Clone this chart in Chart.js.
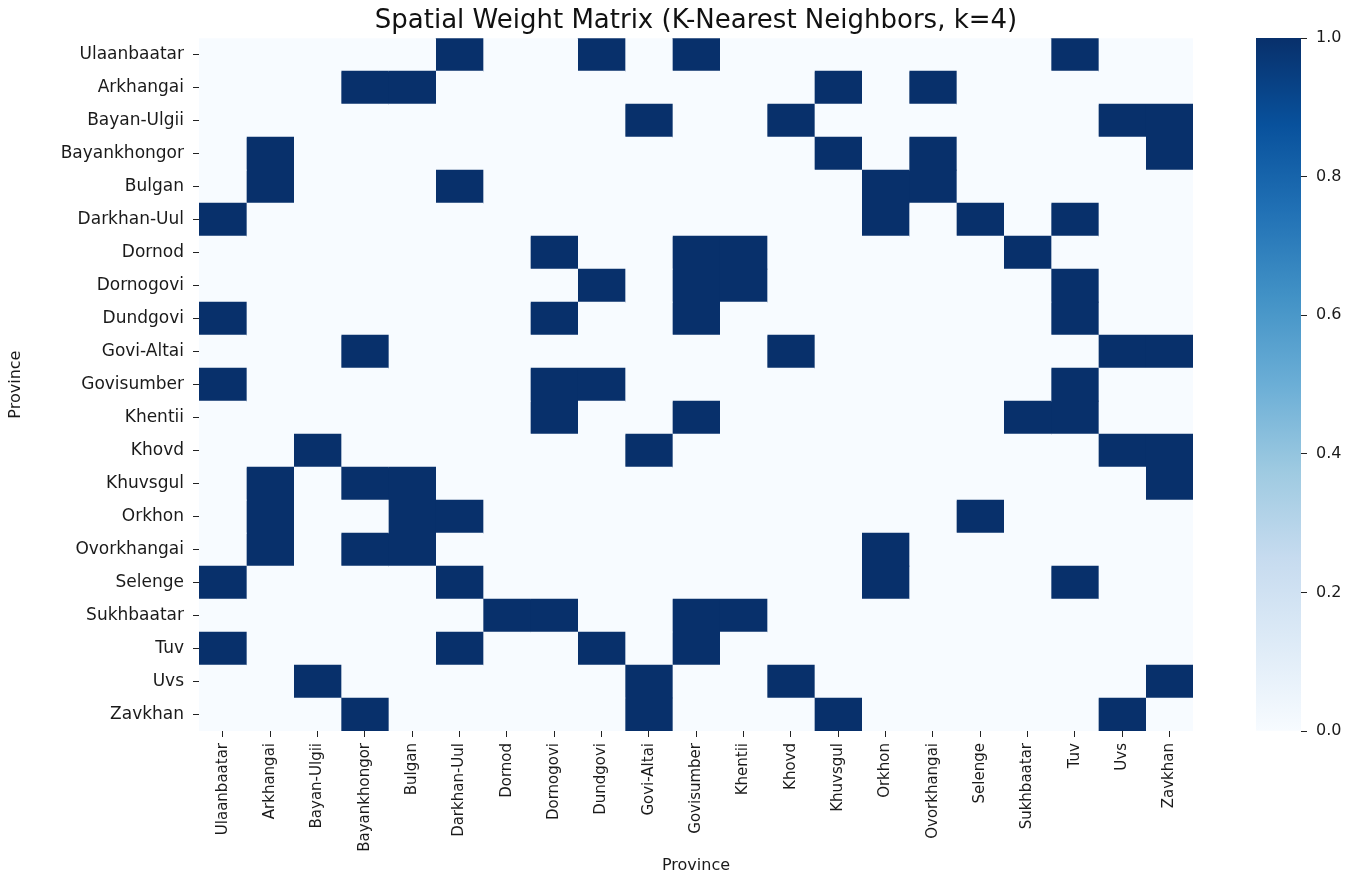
<!DOCTYPE html>
<html>
<head>
<meta charset="utf-8">
<script src="https://cdn.jsdelivr.net/npm/chart.js@4.4.1/dist/chart.umd.min.js"></script>
<style>
html,body{margin:0;padding:0;background:#ffffff;}
#main{position:absolute;left:0;top:0;width:1240px;height:877px;}
#cbar{position:absolute;left:1240px;top:0;width:123px;height:877px;}
</style>
</head>
<body>
<div id="main"><canvas id="heat"></canvas></div>
<div id="cbar"><canvas id="bar"></canvas></div>
<script>
// ---------------- data ----------------
const chartTitle = 'Spatial Weight Matrix (K-Nearest Neighbors, k=4)';
const axisTitle = 'Province';
const provinces = ['Ulaanbaatar','Arkhangai','Bayan-Ulgii','Bayankhongor','Bulgan','Darkhan-Uul','Dornod','Dornogovi','Dundgovi','Govi-Altai','Govisumber','Khentii','Khovd','Khuvsgul','Orkhon','Ovorkhangai','Selenge','Sukhbaatar','Tuv','Uvs','Zavkhan'];

// one row of weights per province (columns in the same order as provinces)
const wUlaanbaatar  = [0,0,0,0,0,1,0,0,1,0,1,0,0,0,0,0,0,0,1,0,0];
const wArkhangai    = [0,0,0,1,1,0,0,0,0,0,0,0,0,1,0,1,0,0,0,0,0];
const wBayanUlgii   = [0,0,0,0,0,0,0,0,0,1,0,0,1,0,0,0,0,0,0,1,1];
const wBayankhongor = [0,1,0,0,0,0,0,0,0,0,0,0,0,1,0,1,0,0,0,0,1];
const wBulgan       = [0,1,0,0,0,1,0,0,0,0,0,0,0,0,1,1,0,0,0,0,0];
const wDarkhanUul   = [1,0,0,0,0,0,0,0,0,0,0,0,0,0,1,0,1,0,1,0,0];
const wDornod       = [0,0,0,0,0,0,0,1,0,0,1,1,0,0,0,0,0,1,0,0,0];
const wDornogovi    = [0,0,0,0,0,0,0,0,1,0,1,1,0,0,0,0,0,0,1,0,0];
const wDundgovi     = [1,0,0,0,0,0,0,1,0,0,1,0,0,0,0,0,0,0,1,0,0];
const wGoviAltai    = [0,0,0,1,0,0,0,0,0,0,0,0,1,0,0,0,0,0,0,1,1];
const wGovisumber   = [1,0,0,0,0,0,0,1,1,0,0,0,0,0,0,0,0,0,1,0,0];
const wKhentii      = [0,0,0,0,0,0,0,1,0,0,1,0,0,0,0,0,0,1,1,0,0];
const wKhovd        = [0,0,1,0,0,0,0,0,0,1,0,0,0,0,0,0,0,0,0,1,1];
const wKhuvsgul     = [0,1,0,1,1,0,0,0,0,0,0,0,0,0,0,0,0,0,0,0,1];
const wOrkhon       = [0,1,0,0,1,1,0,0,0,0,0,0,0,0,0,0,1,0,0,0,0];
const wOvorkhangai  = [0,1,0,1,1,0,0,0,0,0,0,0,0,0,1,0,0,0,0,0,0];
const wSelenge      = [1,0,0,0,0,1,0,0,0,0,0,0,0,0,1,0,0,0,1,0,0];
const wSukhbaatar   = [0,0,0,0,0,0,1,1,0,0,1,1,0,0,0,0,0,0,0,0,0];
const wTuv          = [1,0,0,0,0,1,0,0,1,0,1,0,0,0,0,0,0,0,0,0,0];
const wUvs          = [0,0,1,0,0,0,0,0,0,1,0,0,1,0,0,0,0,0,0,0,1];
const wZavkhan      = [0,0,0,1,0,0,0,0,0,1,0,0,0,1,0,0,0,0,0,1,0];

const colorbarTicks = [0.0, 0.2, 0.4, 0.6, 0.8, 1.0];

// ---------------- build ----------------
const weightRows = [wUlaanbaatar,wArkhangai,wBayanUlgii,wBayankhongor,wBulgan,wDarkhanUul,wDornod,wDornogovi,wDundgovi,wGoviAltai,wGovisumber,wKhentii,wKhovd,wKhuvsgul,wOrkhon,wOvorkhangai,wSelenge,wSukhbaatar,wTuv,wUvs,wZavkhan];

const bluesStops = ['#f7fbff','#deebf7','#c6dbef','#9ecae1','#6baed6','#4292c6','#2171b5','#08519c','#08306b'];
function hexToRgb(h){return [parseInt(h.slice(1,3),16),parseInt(h.slice(3,5),16),parseInt(h.slice(5,7),16)];}
function blues(v){
  const t = Math.max(0, Math.min(1, v)) * (bluesStops.length - 1);
  const i = Math.min(Math.floor(t), bluesStops.length - 2);
  const f = t - i;
  const a = hexToRgb(bluesStops[i]), b = hexToRgb(bluesStops[i+1]);
  const c = a.map((x,k)=>Math.round(x + (b[k]-x)*f));
  return `rgb(${c[0]},${c[1]},${c[2]})`;
}

const FONT = "'DejaVu Sans', 'Noto Sans', sans-serif";
const TXT = '#1a1a1a';
Chart.defaults.font.family = FONT;
Chart.defaults.color = TXT;

const heatDatasets = provinces.map((colName, c) => ({
  label: colName,
  data: provinces.map(() => [c, c + 1]),
  backgroundColor: weightRows.map(row => blues(row[c])),
  borderWidth: 0,
  barPercentage: 1,
  categoryPercentage: 1,
  grouped: false
}));

new Chart(document.getElementById('heat'), {
  type: 'bar',
  data: { labels: provinces, datasets: heatDatasets },
  options: {
    indexAxis: 'y',
    responsive: true,
    maintainAspectRatio: false,
    animation: false,
    layout: { padding: { left: 0, right: 47, top: 0, bottom: 0 } },
    plugins: {
      legend: { display: false },
      tooltip: { enabled: false },
      title: {
        display: true, text: chartTitle, fullSize: false, color: '#111',
        font: { family: FONT, size: 26, weight: 'normal' },
        padding: { top: 6, bottom: 1 }
      }
    },
    scales: {
      x: {
        type: 'linear', min: 0, max: 21, position: 'bottom',
        afterBuildTicks: s => { s.ticks = provinces.map((_, i) => ({ value: i + 0.5 })); },
        afterFit: s => { s.height = 146; },
        ticks: {
          autoSkip: false, maxRotation: 90, minRotation: 90, padding: 6, color: TXT,
          font: { family: FONT, size: 15 },
          callback: v => provinces[Math.floor(v)]
        },
        grid: { drawOnChartArea: false, drawTicks: true, tickLength: 6, tickColor: '#222', tickWidth: 1 },
        border: { display: false },
        title: { display: true, text: axisTitle, color: TXT, font: { family: FONT, size: 16 }, padding: { top: 0, bottom: 2 } }
      },
      y: {
        type: 'category', position: 'left', offset: true,
        afterFit: s => { s.width = 199; },
        ticks: { autoSkip: false, padding: 9, color: TXT, font: { family: FONT, size: 17 } },
        grid: { offset: false, drawOnChartArea: false, drawTicks: true, tickLength: 6, tickColor: '#222', tickWidth: 1 },
        border: { display: false },
        title: { display: true, text: axisTitle, color: TXT, font: { family: FONT, size: 16 }, padding: { top: 6, bottom: 0 } }
      }
    }
  }
});

// ---------------- colour bar ----------------
function barGradient(context) {
  const chart = context.chart;
  const area = chart.chartArea;
  if (!area) return bluesStops[bluesStops.length - 1];
  const g = chart.ctx.createLinearGradient(0, area.bottom, 0, area.top);
  bluesStops.forEach((s, k) => g.addColorStop(k / (bluesStops.length - 1), s));
  return g;
}

new Chart(document.getElementById('bar'), {
  type: 'bar',
  data: { labels: ['scale'], datasets: [{ data: [[0, 1]], backgroundColor: barGradient, borderWidth: 0, barPercentage: 1, categoryPercentage: 1 }] },
  options: {
    responsive: true,
    maintainAspectRatio: false,
    animation: false,
    layout: { padding: { left: 16, right: 0, top: 38, bottom: 146 } },
    plugins: { legend: { display: false }, tooltip: { enabled: false } },
    scales: {
      x: { display: false },
      y: {
        position: 'right', min: 0, max: 1,
        afterBuildTicks: s => { s.ticks = colorbarTicks.map(v => ({ value: v })); },
        afterFit: s => { s.width = 62; },
        ticks: { padding: 9, color: TXT, font: { family: FONT, size: 16 }, callback: v => Number(v).toFixed(1) },
        grid: { drawOnChartArea: false, drawTicks: true, tickLength: 6, tickColor: '#222', tickWidth: 1 },
        border: { display: false }
      }
    }
  }
});
</script>
</body>
</html>
